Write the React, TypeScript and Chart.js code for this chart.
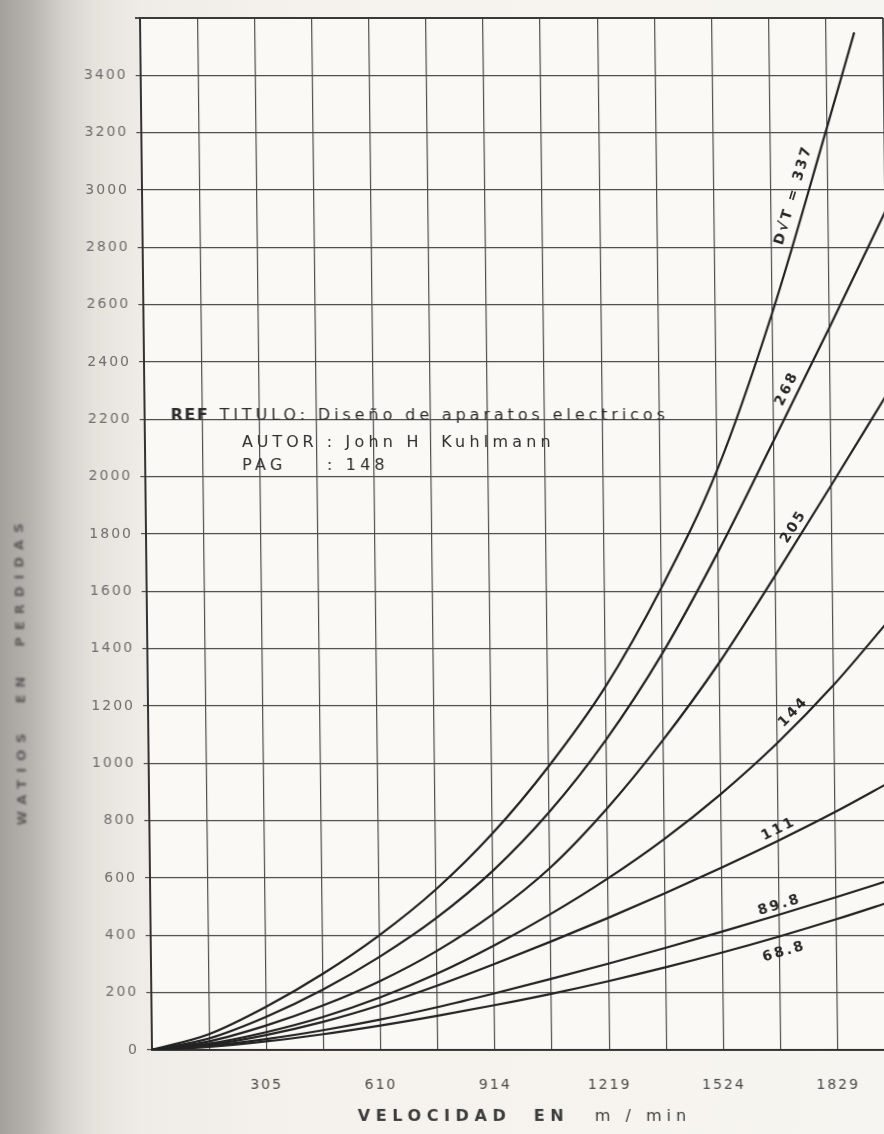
import React, { useEffect, useRef } from "react";
import { Chart, registerables } from "chart.js";

Chart.register(...registerables);

// ---- data ----
// velocity grid in m/min (500 ft/min steps)
const velocity = [0, 152.4, 304.8, 457.2, 609.6, 762, 914.4, 1066.8, 1219.2, 1371.6, 1524, 1676.4, 1828.8, 1981.2];
const xTickLabels = ["", "", "305", "", "610", "", "914", "", "1219", "", "1524", "", "1829", ""];
const yTickValues = [0, 200, 400, 600, 800, 1000, 1200, 1400, 1600, 1800, 2000, 2200, 2400, 2600, 2800, 3000, 3200, 3400, 3600];
const yTickLabels = ["0", "200", "400", "600", "800", "1000", "1200", "1400", "1600", "1800", "2000", "2200", "2400", "2600", "2800", "3000", "3200", "3400", ""];

const velocity337 = [0, 152.4, 304.8, 457.2, 609.6, 762, 914.4, 1066.8, 1219.2, 1371.6, 1524, 1676.4, 1828.8, 1904];
const loss337 = [0, 55, 150, 265, 400, 560, 755, 990, 1265, 1610, 2020, 2570, 3220, 3550];
const loss268 = [0, 40, 115, 210, 325, 460, 625, 830, 1080, 1380, 1735, 2125, 2520, 2925];
const loss205 = [0, 30, 85, 155, 240, 345, 475, 635, 840, 1080, 1350, 1655, 1970, 2290];
const loss144 = [0, 22, 62, 115, 183, 266, 364, 474, 597, 735, 892, 1070, 1273, 1503];
const loss111 = [0, 18, 52, 98, 156, 224, 299, 378, 460, 546, 636, 730, 830, 938];
const loss898 = [0, 14, 38, 69, 106, 149, 197, 248, 301, 356, 413, 472, 533, 596];
const loss688 = [0, 11, 30, 55, 85, 119, 156, 196, 240, 288, 340, 396, 456, 520];

const curveNames = ["D√T = 337", "268", "205", "144", "111", "89.8", "68.8"];

const series = [
  { v: velocity337, p: loss337 },
  { v: velocity, p: loss268 },
  { v: velocity, p: loss205 },
  { v: velocity, p: loss144 },
  { v: velocity, p: loss111 },
  { v: velocity, p: loss898 },
  { v: velocity, p: loss688 },
];

const yTitle = "WATIOS  EN  PERDIDAS";
const xTitleParts = ["VELOCIDAD", "EN", "m / min"];
const refLines = {
  ref: "REF",
  titulo: "TITULO: Diseño de aparatos electricos",
  autorKey: "AUTOR",
  autorVal: ": John H  Kuhlmann",
  pagKey: "PAG",
  pagVal: ": 148",
};

// label layout (anchor velocity along curve, perpendicular offset px)
const labelLayout = [
  { at: 1770, off: 13 },
  { at: 1740, off: 11 },
  { at: 1750, off: 10 },
  { at: 1740, off: 10 },
  { at: 1690, off: 10 },
  { at: 1685, off: 9 },
  { at: 1677, off: -16 },
];

const FONT = "'DejaVu Sans', sans-serif";

function interp(vs: number[], ps: number[], v: number) {
  for (let i = 0; i < vs.length - 1; i++) {
    if (v >= vs[i] && v <= vs[i + 1]) {
      const t = (v - vs[i]) / (vs[i + 1] - vs[i]);
      return ps[i] + t * (ps[i + 1] - ps[i]);
    }
  }
  return ps[ps.length - 1];
}

const decorPlugin = {
  id: "decor",
  beforeDraw(chart: any) {
    const { ctx, chartArea } = chart;
    ctx.save();
    ctx.fillStyle = "#fbf9f6";
    ctx.fillRect(chartArea.left, chartArea.top, chartArea.right - chartArea.left, chartArea.bottom - chartArea.top);
    ctx.restore();
    (ctx as any).letterSpacing = "2px";
  },
  afterDatasetsDraw(chart: any) {
    const { ctx, chartArea, scales } = chart;
    const xs = scales.x;
    const ys = scales.y;

    // top frame
    ctx.save();
    ctx.strokeStyle = "#3a3a3a";
    ctx.lineWidth = 2;
    ctx.beginPath();
    ctx.moveTo(chartArea.left, chartArea.top);
    ctx.lineTo(chartArea.right, chartArea.top);
    ctx.stroke();
    ctx.restore();

    // curve labels
    ctx.save();
    ctx.fillStyle = "#262626";
    ctx.font = `bold 14px ${FONT}`;
    (ctx as any).letterSpacing = "2.5px";
    ctx.textAlign = "center";
    ctx.textBaseline = "middle";
    series.forEach((s, i) => {
      const lay = labelLayout[i];
      const v = lay.at;
      const px = xs.getPixelForValue(v);
      const py = ys.getPixelForValue(interp(s.v, s.p, v));
      const x1 = xs.getPixelForValue(v - 25);
      const y1 = ys.getPixelForValue(interp(s.v, s.p, v - 25));
      const x2 = xs.getPixelForValue(v + 25);
      const y2 = ys.getPixelForValue(interp(s.v, s.p, v + 25));
      const dx = x2 - x1;
      const dy = y2 - y1;
      const len = Math.hypot(dx, dy);
      const tx = dx / len;
      const ty = dy / len;
      ctx.save();
      ctx.translate(px + ty * lay.off, py - tx * lay.off);
      ctx.rotate(Math.atan2(ty, tx));
      ctx.fillText(curveNames[i], 0, 0);
      ctx.restore();
    });
    ctx.restore();

    // reference block
    ctx.save();
    ctx.fillStyle = "#2e2e2e";
    ctx.textBaseline = "alphabetic";
    ctx.textAlign = "left";
    const L = chartArea.left;
    const rowY = ys.getPixelForValue(2200);
    ctx.font = `bold 16px ${FONT}`;
    (ctx as any).letterSpacing = "1.5px";
    ctx.fillText(refLines.ref, L + 26, rowY + 1);
    ctx.font = `16px ${FONT}`;
    (ctx as any).letterSpacing = "3.9px";
    ctx.fillText(refLines.titulo, L + 75, rowY + 1);
    const keyX = L + 97;
    ctx.fillText(refLines.autorKey, keyX, rowY + 28);
    const colonX = keyX + ctx.measureText(refLines.autorKey + " ").width;
    (ctx as any).letterSpacing = "4.2px";
    ctx.fillText(refLines.autorVal, colonX, rowY + 28);
    ctx.fillText(refLines.pagKey, keyX, rowY + 51);
    ctx.fillText(refLines.pagVal, colonX, rowY + 51);
    ctx.restore();

    // x title
    ctx.save();
    ctx.fillStyle = "#3c3c3c";
    ctx.font = `bold 16px ${FONT}`;
    (ctx as any).letterSpacing = "5.6px";
    ctx.textBaseline = "middle";
    ctx.textAlign = "left";
    const ty0 = 1117;
    ctx.fillText(xTitleParts[0], L + 205, ty0);
    ctx.fillText(xTitleParts[1], L + 381, ty0);
    ctx.font = `16px ${FONT}`;
    (ctx as any).letterSpacing = "5px";
    ctx.fillText(xTitleParts[2], L + 442, ty0);
    ctx.restore();

    // y title (rotated, faint)
    ctx.save();
    ctx.fillStyle = "#5a5a5a";
    ctx.font = `bold 13px ${FONT}`;
    (ctx as any).letterSpacing = "7px";
    (ctx as any).filter = "blur(0.9px)";
    ctx.translate(20, 671);
    ctx.rotate(-Math.PI / 2);
    ctx.textAlign = "center";
    ctx.textBaseline = "middle";
    ctx.fillText(yTitle, 0, 0);
    ctx.restore();
  },
  afterDraw(chart: any) {
    (chart.ctx as any).letterSpacing = "0px";
  },
};

export default function App() {
  const ref = useRef<HTMLCanvasElement | null>(null);

  useEffect(() => {
    const canvas = ref.current;
    if (!canvas) return;
    Chart.defaults.font.family = FONT;
    const chart = new Chart(canvas, {
      type: "line",
      data: {
        datasets: series.map((s, i) => ({
          label: curveNames[i],
          data: s.v.map((v, j) => ({ x: v, y: s.p[j] })),
          borderColor: "#232323",
          borderWidth: 2.2,
          pointRadius: 0,
          fill: false,
          cubicInterpolationMode: "monotone" as const,
        })),
      },
      options: {
        responsive: false,
        animation: false,
        devicePixelRatio: 1,
        layout: { padding: { left: 0, top: 18, right: 11, bottom: 0 } },
        plugins: { legend: { display: false }, tooltip: { enabled: false }, title: { display: false } },
        scales: {
          x: {
            type: "linear",
            min: 0,
            max: 1981.2,
            afterBuildTicks: (s: any) => {
              s.ticks = velocity.map((v) => ({ value: v }));
            },
            afterFit: (s: any) => {
              s.height = 84;
              s.paddingLeft = 0;
              s.paddingRight = 0;
            },
            ticks: {
              autoSkip: false,
              maxRotation: 0,
              padding: 27,
              color: "#4a4a4a",
              font: { size: 14, family: FONT },
              callback: (_v: any, i: number) => xTickLabels[i],
            },
            grid: {
              color: "#4e4e4e",
              lineWidth: (c: any) => (c.index === velocity.length - 1 ? 2 : 1.2),
              drawTicks: false,
            },
            border: { display: true, color: "#333", width: 2 },
          },
          y: {
            type: "linear",
            min: 0,
            max: 3600,
            afterBuildTicks: (s: any) => {
              s.ticks = yTickValues.map((v) => ({ value: v }));
            },
            afterFit: (s: any) => {
              s.width = 146;
              s.paddingTop = 0;
              s.paddingBottom = 0;
            },
            ticks: {
              autoSkip: false,
              padding: 8,
              color: "#6e6e6e",
              font: { size: 14, family: FONT },
              callback: (_v: any, i: number) => yTickLabels[i],
            },
            grid: {
              color: "#4e4e4e",
              lineWidth: (c: any) => (c.index === yTickValues.length - 1 ? 2 : 1.2),
              tickLength: 5,
            },
            border: { display: true, color: "#333", width: 2 },
          },
        },
      },
      plugins: [decorPlugin],
    });
    return () => chart.destroy();
  }, []);

  return (
    <div
      style={{
        position: "fixed",
        left: 0,
        top: 0,
        width: 884,
        height: 1134,
        overflow: "hidden",
        background:
          "linear-gradient(to right, #a4a19d 0px, #b6b3af 30px, #d2cec9 60px, #e6e2dc 95px, #efebe6 140px, #f5f2ed 300px, #f7f5f1 100%)",
      }}
    >
      <canvas
        ref={ref}
        width={900}
        height={1134}
        style={{
          display: "block",
          width: 900,
          height: 1134,
          transform: "skewX(0.666deg)",
          transformOrigin: "146px 534px",
        }}
      />
    </div>
  );
}
